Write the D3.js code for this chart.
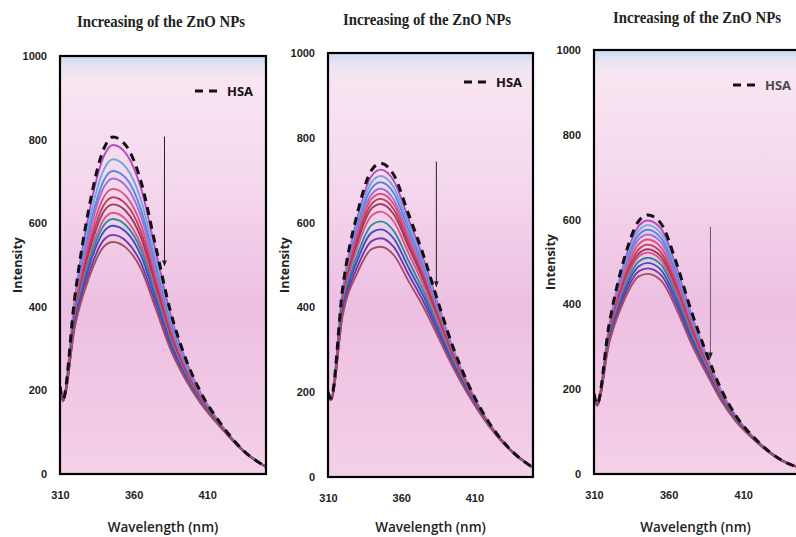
<!DOCTYPE html>
<html>
<head>
<meta charset="utf-8">
<title>ZnO NPs quenching</title>
<script src="https://d3js.org/d3.v7.min.js"></script>
<style>
  body { margin: 0; background: #fff; }
  svg { display: block; }
</style>
</head>
<body>
<div id="chart"></div>
<script>
const wavelengths = [310, 312, 320, 330, 340, 346, 355, 365, 375, 385, 395, 405, 420, 435, 450];
const xTicks = [310, 360, 410];
const yTicks = [0, 200, 400, 600, 800, 1000];
const lineColors = ["#b947c9", "#6fa8dc", "#5b86e5", "#9b72d6", "#e0507a", "#c23b5a",
                    "#9c3c62", "#d9558a", "#2e8b9a", "#3f4fc4", "#6d3aa8", "#a34e63"];

// panel 1
const hsa1 = [210, 180, 422, 642, 780, 806, 785, 700, 545, 390, 280, 200, 117, 55, 17];
const zno1 = [
  [210, 180, 416, 629, 762, 787, 766, 684, 534, 383, 276, 198, 116, 55, 17],
  [209, 179, 407, 606, 730, 753, 733, 656, 513, 371, 269, 194, 115, 55, 17],
  [209, 178, 399, 587, 704, 725, 707, 633, 497, 361, 263, 191, 114, 54, 17],
  [209, 178, 394, 575, 687, 707, 688, 617, 486, 354, 259, 189, 113, 54, 17],
  [208, 177, 386, 558, 664, 682, 664, 597, 471, 345, 254, 186, 112, 54, 17],
  [208, 177, 380, 544, 645, 662, 645, 580, 459, 338, 250, 184, 112, 54, 17],
  [208, 176, 376, 533, 629, 645, 628, 566, 449, 332, 246, 182, 111, 54, 17],
  [208, 176, 370, 519, 610, 625, 608, 549, 437, 324, 242, 180, 110, 54, 17],
  [207, 176, 366, 509, 596, 610, 594, 537, 429, 319, 239, 178, 110, 54, 17],
  [207, 175, 361, 499, 581, 594, 579, 523, 419, 313, 236, 176, 109, 54, 17],
  [207, 175, 355, 484, 561, 572, 557, 505, 406, 305, 231, 174, 109, 53, 17],
  [207, 174, 350, 472, 545, 555, 541, 491, 396, 299, 228, 172, 108, 53, 17]
];

// panel 2
const hsa2 = [200, 186, 445, 621, 725, 740, 712, 620, 525, 415, 310, 225, 128, 63, 22];
const zno2 = [
  [200, 186, 440, 610, 711, 725, 698, 608, 516, 409, 306, 223, 127, 63, 22],
  [200, 185, 435, 599, 696, 710, 683, 596, 506, 402, 302, 221, 127, 63, 22],
  [199, 185, 430, 589, 682, 695, 669, 584, 497, 396, 299, 219, 126, 63, 22],
  [199, 185, 425, 578, 668, 680, 654, 572, 488, 390, 295, 217, 125, 63, 22],
  [199, 184, 421, 570, 657, 668, 643, 562, 480, 385, 292, 215, 125, 62, 22],
  [199, 184, 417, 561, 645, 656, 631, 552, 472, 380, 289, 214, 124, 62, 22],
  [199, 184, 413, 552, 634, 644, 619, 543, 465, 375, 286, 212, 124, 62, 22],
  [199, 183, 407, 540, 617, 626, 602, 528, 454, 367, 281, 209, 123, 62, 22],
  [198, 183, 400, 523, 595, 603, 580, 510, 440, 357, 276, 206, 122, 62, 22],
  [198, 182, 393, 510, 577, 584, 562, 494, 428, 349, 271, 204, 121, 62, 22],
  [198, 182, 387, 495, 557, 563, 542, 478, 415, 341, 266, 201, 120, 62, 22],
  [197, 181, 380, 481, 538, 543, 523, 462, 402, 332, 261, 198, 120, 61, 22]
];

// panel 3
const hsa3 = [190, 165, 350, 505, 597, 611, 590, 500, 386, 288, 201, 138, 76, 34, 12];
const zno3 = [
  [190, 165, 346, 496, 585, 598, 578, 490, 379, 283, 198, 137, 76, 34, 12],
  [190, 164, 343, 488, 574, 587, 567, 481, 373, 280, 196, 136, 75, 34, 12],
  [189, 164, 339, 481, 564, 576, 556, 473, 367, 276, 194, 135, 75, 34, 12],
  [189, 164, 336, 473, 554, 565, 546, 464, 360, 272, 192, 133, 75, 34, 12],
  [189, 163, 332, 464, 542, 553, 534, 454, 354, 267, 190, 132, 74, 34, 12],
  [189, 163, 328, 456, 530, 541, 522, 445, 347, 263, 187, 131, 74, 34, 12],
  [189, 163, 324, 448, 520, 530, 512, 436, 341, 259, 185, 130, 73, 34, 12],
  [189, 163, 322, 442, 513, 522, 504, 430, 336, 256, 183, 129, 73, 34, 12],
  [188, 162, 318, 434, 501, 510, 493, 421, 330, 252, 181, 128, 73, 33, 12],
  [188, 162, 314, 426, 490, 498, 481, 411, 323, 248, 179, 127, 73, 33, 12],
  [188, 162, 310, 417, 478, 485, 469, 401, 316, 244, 176, 125, 72, 33, 12],
  [188, 161, 306, 408, 466, 472, 456, 391, 309, 239, 174, 124, 72, 33, 12]
];

// arrow start/end in data units [wavelength, intensity]
const arrows = [
  [[381, 807], [381, 498]],
  [[384, 744], [384, 449]],
  [[388, 583], [388, 274]]
];

const titleText = "Increasing of the ZnO NPs";

// layout of the three panels (pixels)
const panels = [
  {left: 60, right: 266, top: 56, bottom: 474, titleX: 161, titleY: 27, hsa: hsa1, zno: zno1,
   legX: 195, legY: 91, labelX: 18, hsaColor: "#111"},
  {left: 328, right: 533, top: 53, bottom: 477, titleX: 427, titleY: 25, hsa: hsa2, zno: zno2,
   legX: 464, legY: 82, labelX: 285, hsaColor: "#111"},
  {left: 594, right: 803, top: 50, bottom: 474, titleX: 697, titleY: 23, hsa: hsa3, zno: zno3,
   legX: 733, legY: 85, labelX: 551, hsaColor: "#4a4a4a"}
];

const W = 796, H = 537;
const svg = d3.select("#chart").append("svg")
    .attr("width", W)
    .attr("height", H);

const defs = svg.append("defs");
const grad = defs.append("linearGradient")
    .attr("id", "bg")
    .attr("x1", 0).attr("y1", 0).attr("x2", 0).attr("y2", 1);
[[0, "#c7dcf1"], [0.025, "#e9e3f3"], [0.06, "#f9e5f2"], [0.3, "#f5d8ed"],
 [0.6, "#edbfe2"], [1, "#f4d0e8"]].forEach(s => {
  grad.append("stop").attr("offset", s[0]).attr("stop-color", s[1]);
});

defs.append("marker")
    .attr("id", "arrowhead")
    .attr("viewBox", "0 0 10 10")
    .attr("refX", 9).attr("refY", 5)
    .attr("markerWidth", 6).attr("markerHeight", 7)
    .attr("orient", "auto")
  .append("path")
    .attr("d", "M0,1 L10,5 L0,9 Z")
    .attr("fill", "#222");

panels.forEach((p, i) => {
  const x = d3.scaleLinear().domain([310, 450]).range([p.left, p.right]);
  const y = d3.scaleLinear().domain([0, 1000]).range([p.bottom, p.top]);

  const g = svg.append("g");

  defs.append("clipPath").attr("id", "clip" + i)
    .append("rect")
      .attr("x", p.left).attr("y", p.top)
      .attr("width", p.right - p.left).attr("height", p.bottom - p.top);

  // plot area
  g.append("rect")
      .attr("x", p.left).attr("y", p.top)
      .attr("width", p.right - p.left).attr("height", p.bottom - p.top)
      .attr("fill", "url(#bg)");

  const line = d3.line()
      .x((d, j) => x(wavelengths[j]))
      .y(d => y(d))
      .curve(d3.curveMonotoneX);

  const plot = g.append("g").attr("clip-path", "url(#clip" + i + ")");

  plot.selectAll("path.zno")
    .data(p.zno)
    .join("path")
      .attr("class", "zno")
      .attr("d", line)
      .attr("fill", "none")
      .attr("stroke", (d, j) => lineColors[j % lineColors.length])
      .attr("stroke-width", 1.9);

  plot.append("path")
      .attr("d", line(p.hsa))
      .attr("fill", "none")
      .attr("stroke", "#111")
      .attr("stroke-width", 3)
      .attr("stroke-dasharray", "8,6");

  // arrow
  const a = arrows[i];
  g.append("line")
      .attr("x1", x(a[0][0])).attr("y1", y(a[0][1]))
      .attr("x2", x(a[1][0])).attr("y2", y(a[1][1]))
      .attr("stroke", i === 2 ? "#6b5a70" : "#222")
      .attr("stroke-width", 1)
      .attr("marker-end", "url(#arrowhead)");

  // frame
  g.append("rect")
      .attr("x", p.left).attr("y", p.top)
      .attr("width", p.right - p.left).attr("height", p.bottom - p.top)
      .attr("fill", "none")
      .attr("stroke", "#000")
      .attr("stroke-width", 2.2);

  // axes (labels only, no tick marks)
  const yAxis = d3.axisLeft(y).tickValues(yTicks).tickFormat(d3.format("d"))
      .tickSize(0).tickPadding(13);
  const yg = g.append("g")
      .attr("transform", "translate(" + p.left + ",0)")
      .call(yAxis);
  yg.select(".domain").remove();
  yg.selectAll("text")
      .attr("font-family", "Liberation Sans, Arial, sans-serif")
      .attr("font-size", "11px")
      .attr("font-weight", "bold")
      .attr("fill", "#222");

  const xAxis = d3.axisBottom(x).tickValues(xTicks).tickFormat(d3.format("d"))
      .tickSize(0).tickPadding(17);
  const xg = g.append("g")
      .attr("transform", "translate(0," + p.bottom + ")")
      .call(xAxis);
  xg.select(".domain").remove();
  xg.selectAll("text")
      .attr("font-family", "Liberation Sans, Arial, sans-serif")
      .attr("font-size", "11px")
      .attr("font-weight", "bold")
      .attr("fill", "#222");

  // axis titles
  g.append("text")
      .attr("x", (p.left + p.right) / 2 + (i === 2 ? -3 : 0))
      .attr("y", 532)
      .attr("text-anchor", "middle")
      .attr("font-family", "Open Sans, sans-serif")
      .attr("font-size", "13.5px")
      .attr("font-weight", 600)
      .attr("fill", "#222")
      .text("Wavelength (nm)");

  g.append("text")
      .attr("transform", "translate(" + p.labelX + "," + ((p.top + p.bottom) / 2) + ") rotate(-90)")
      .attr("text-anchor", "middle")
      .attr("dy", "0.35em")
      .attr("font-family", "Open Sans, sans-serif")
      .attr("font-size", "12.5px")
      .attr("font-weight", "bold")
      .attr("fill", "#222")
      .text("Intensity");

  // panel title
  g.append("text")
      .attr("x", p.titleX)
      .attr("y", p.titleY)
      .attr("text-anchor", "middle")
      .attr("font-family", "Liberation Serif, Times New Roman, serif")
      .attr("font-size", "16px")
      .attr("font-weight", "bold")
      .attr("fill", "#222")
      .attr("textLength", 168)
      .attr("lengthAdjust", "spacingAndGlyphs")
      .text(titleText);

  // legend
  g.append("line")
      .attr("x1", p.legX).attr("x2", p.legX + 27)
      .attr("y1", p.legY).attr("y2", p.legY)
      .attr("stroke", "#111")
      .attr("stroke-width", 3)
      .attr("stroke-dasharray", "8,6");
  g.append("text")
      .attr("x", p.legX + 32)
      .attr("y", p.legY)
      .attr("dy", "0.36em")
      .attr("font-family", "Open Sans, sans-serif")
      .attr("font-size", "13px")
      .attr("font-weight", "bold")
      .attr("fill", p.hsaColor)
      .text("HSA");
});
</script>
</body>
</html>
